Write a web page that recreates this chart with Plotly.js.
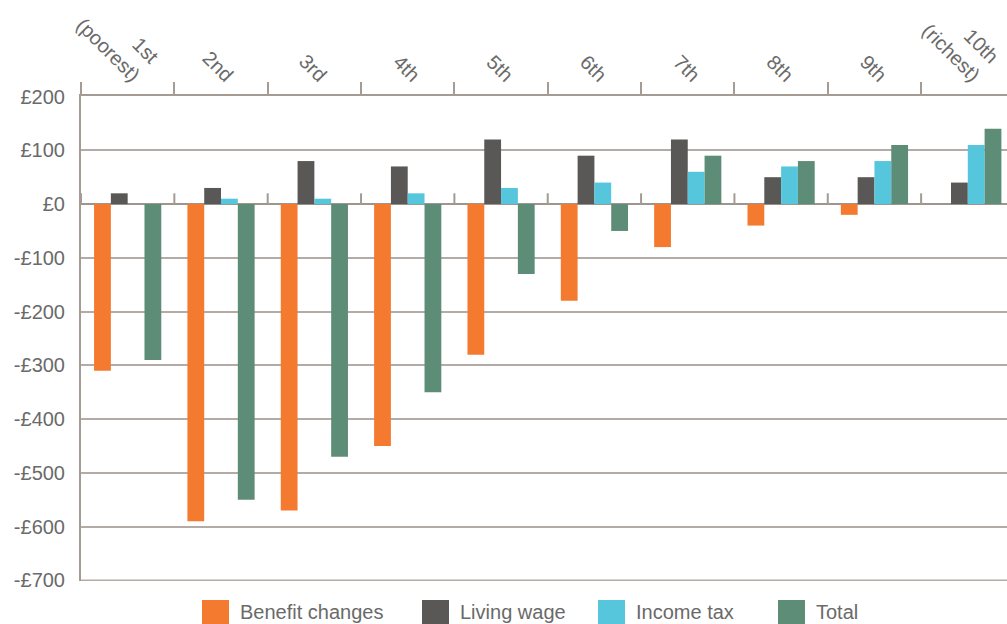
<!DOCTYPE html>
<html>
<head>
<meta charset="utf-8">
<script src="https://cdn.plot.ly/plotly-3.0.1.min.js"></script>
<style>html,body{margin:0;padding:0;background:#fff;}#chart{width:1007px;height:624px;}</style>
</head>
<body>
<div id="chart"></div>
<script>
var categories = ['1st<br>(poorest)', '2nd', '3rd', '4th', '5th', '6th', '7th', '8th', '9th', '10th<br>(richest)'];
var seriesNames = ['Benefit changes', 'Living wage', 'Income tax', 'Total'];
var benefitChanges = [-310, -590, -570, -450, -280, -180, -80, -40, -20, 0];
var livingWage = [20, 30, 80, 70, 120, 90, 120, 50, 50, 40];
var incomeTax = [0, 10, 10, 20, 30, 40, 60, 70, 80, 110];
var total = [-290, -550, -470, -350, -130, -50, 90, 80, 110, 140];
var yTickValues = [200, 100, 0, -100, -200, -300, -400, -500, -600, -700];
var yTickLabels = ['£200', '£100', '£0', '-£100', '-£200', '-£300', '-£400', '-£500', '-£600', '-£700'];

var colors = ['#f47a30', '#595856', '#56c6dc', '#5e8d77'];
var seriesValues = [benefitChanges, livingWage, incomeTax, total];
var fontFamily = 'Liberation Sans, Arial, sans-serif';
var textColor = '#6a6a6a';
var axisColor = '#a39b94';
var gridColor = '#b3aca6';

var traces = seriesValues.map(function (vals, i) {
  return {
    type: 'bar',
    name: seriesNames[i],
    x: categories,
    y: vals,
    marker: {color: colors[i], line: {width: 0}},
    showlegend: false,
    hoverinfo: 'x+y+name'
  };
});

var shapes = [];
// small ticks on the zero line at category boundaries
for (var b = -1; b < categories.length - 1; b++) {
  shapes.push({type: 'line', xref: 'x', yref: 'y', x0: b + 0.5, x1: b + 0.5, y0: 0, y1: 20,
    line: {color: axisColor, width: 2}, layer: 'above'});
}
// bottom gridline at the lowest tick
shapes.push({type: 'line', xref: 'paper', yref: 'y', x0: 0, x1: 1,
  y0: yTickValues[yTickValues.length - 1], y1: yTickValues[yTickValues.length - 1],
  line: {color: gridColor, width: 2}, layer: 'below'});

// custom legend
var legendX = [202, 422, 598, 778];
var W = 1007, H = 624, mL = 81, mR = 0, mT = 96, mB = 43;
var pw = W - mL - mR, ph = H - mT - mB;
function px2x(p) { return (p - mL) / pw; }
function py2y(p) { return (H - mB - p) / ph; }
var annotations = [];
seriesNames.forEach(function (name, i) {
  shapes.push({type: 'rect', xref: 'paper', yref: 'paper',
    x0: px2x(legendX[i]), x1: px2x(legendX[i] + 27), y0: py2y(600), y1: py2y(627),
    fillcolor: colors[i], line: {width: 0}});
  annotations.push({xref: 'paper', yref: 'paper', x: px2x(legendX[i] + 36), y: py2y(612),
    xanchor: 'left', yanchor: 'middle', text: name, showarrow: false,
    font: {family: fontFamily, size: 20, color: textColor}});
});

var layout = {
  width: W, height: H,
  margin: {l: mL, r: mR, t: mT, b: mB, pad: 0},
  paper_bgcolor: '#ffffff', plot_bgcolor: '#ffffff',
  barmode: 'group', bargap: 0.28, bargroupgap: 0,
  showlegend: false,
  font: {family: fontFamily, size: 20, color: textColor},
  xaxis: {
    type: 'category', side: 'top', range: [-0.5, 9.42],
    tickson: 'boundaries', ticks: 'outside', ticklen: 12, tickwidth: 2, tickcolor: axisColor,
    tickangle: 45, ticklabelshift: 11, ticklabelstandoff: 0,
    showgrid: false, showline: true, linecolor: axisColor, linewidth: 2,
    zeroline: false, tickfont: {family: fontFamily, size: 20, color: textColor}, fixedrange: true
  },
  yaxis: {
    range: [-701, 201], tickvals: yTickValues, ticktext: yTickLabels,
    showgrid: true, gridcolor: gridColor, gridwidth: 2,
    zeroline: true, zerolinecolor: '#9d958e', zerolinewidth: 2,
    showline: true, linecolor: axisColor, linewidth: 2, ticks: '', ticklabelstandoff: 10,
    tickfont: {family: fontFamily, size: 20, color: textColor}, fixedrange: true
  },
  shapes: shapes,
  annotations: annotations
};

Plotly.newPlot('chart', traces, layout, {displayModeBar: false, staticPlot: true});
</script>
</body>
</html>
